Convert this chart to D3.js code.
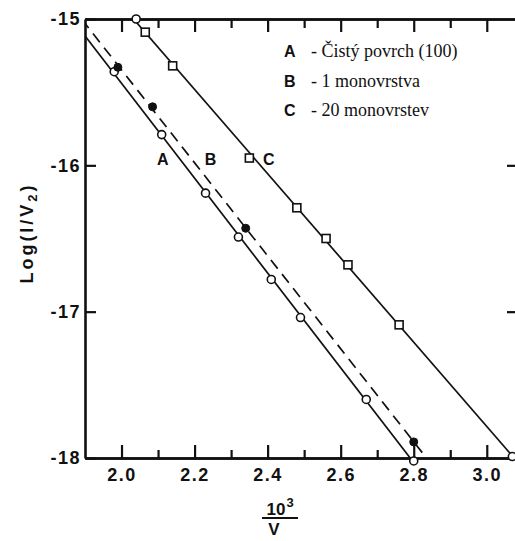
<!DOCTYPE html>
<html>
<head>
<meta charset="utf-8">
<script src="https://cdn.jsdelivr.net/npm/d3@7"></script>
<style>
  body { margin: 0; background: #fff; }
  svg { display: block; }
</style>
</head>
<body>
<div id="chart"></div>
<script>
// values
const seriesAx = [1.98, 2.11, 2.23, 2.32, 2.41, 2.49, 2.67, 2.80];
const seriesAy = [-15.36, -15.79, -16.19, -16.49, -16.78, -17.04, -17.60, -18.02];

const seriesBx = [1.99, 2.085, 2.34, 2.80];
const seriesBy = [-15.33, -15.60, -16.43, -17.89];

const seriesCx = [2.04, 2.065, 2.14, 2.35, 2.48, 2.56, 2.62, 2.76, 3.07];
const seriesCy = [-15.00, -15.09, -15.32, -15.95, -16.29, -16.50, -16.68, -17.09, -17.99];
const seriesCmark = ['circle', 'square', 'square', 'square', 'square', 'square', 'square', 'square', 'circle'];

const xTicks = [2.0, 2.2, 2.4, 2.6, 2.8, 3.0];
const xMinorTicks = [2.1, 2.3, 2.5, 2.7, 2.9];
const yTicks = [-15, -16, -17, -18];
const yRightTicks = [-16, -17];

const legendKeys = ['A', 'B', 'C'];
const legendLabels = ['- Čistý povrch (100)', '- 1 monovrstva', '- 20 monovrstev'];
// where the letters sit next to the lines
const letterX = [2.113, 2.244, 2.403];
const letterY = [-15.96, -15.96, -15.96];

const W = 515, H = 541;
const svg = d3.select('#chart').append('svg').attr('width', W).attr('height', H);

const x = d3.scaleLinear().domain([1.9, 3.08]).range([85, 516]);
const y = d3.scaleLinear().domain([-18, -15]).range([458, 19]);

const sans = '"Liberation Sans", Arial, sans-serif';
const serif = '"Liberation Serif", "Times New Roman", serif';
const ink = '#111';

// clip for the fitted lines
svg.append('clipPath').attr('id', 'plot')
    .append('rect')
    .attr('x', x(1.9)).attr('y', y(-15))
    .attr('width', x(3.08) - x(1.9)).attr('height', y(-18) - y(-15));

function fit(xs, ys) {
    const mx = d3.mean(xs), my = d3.mean(ys);
    let num = 0, den = 0;
    xs.forEach((v, i) => { num += (v - mx) * (ys[i] - my); den += (v - mx) * (v - mx); });
    const k = num / den;
    return v => my + k * (v - mx);
}

const line = d3.line().x(d => x(d[0])).y(d => y(d[1]));

function drawFit(xs, ys, dash) {
    const f = fit(xs, ys);
    const dom = [1.8, 3.2];
    svg.append('path')
        .attr('clip-path', 'url(#plot)')
        .attr('fill', 'none')
        .attr('stroke', ink)
        .attr('stroke-width', 1.7)
        .attr('stroke-dasharray', dash)
        .attr('d', line(dom.map(v => [v, f(v)])));
}

drawFit(seriesAx, seriesAy, null);
drawFit(seriesBx, seriesBy, '11,7');
drawFit(seriesCx, seriesCy, null);

// axes, ticks point inward
function styleAxis(g) {
    g.select('.domain').attr('stroke', ink).attr('stroke-width', 2.6);
    g.selectAll('.tick line').attr('stroke', ink).attr('stroke-width', 2.2);
    g.selectAll('.tick text')
        .attr('fill', ink)
        .style('font-family', sans)
        .style('font-weight', 'bold')
        .style('font-size', '18px')
        .style('letter-spacing', '1.5px');
}

svg.append('g').attr('transform', `translate(0,${y(-18)})`)
    .call(d3.axisBottom(x).tickValues(xMinorTicks).tickSize(-8).tickSizeOuter(0).tickFormat(''))
    .call(styleAxis);
svg.append('g').attr('transform', `translate(0,${y(-18)})`)
    .call(d3.axisBottom(x).tickValues(xTicks).tickSize(-13).tickSizeOuter(0).tickPadding(10).tickFormat(d3.format('.1f')))
    .call(styleAxis);

svg.append('g').attr('transform', `translate(0,${y(-15)})`)
    .call(d3.axisTop(x).tickValues(xMinorTicks).tickSize(-9).tickSizeOuter(0).tickFormat(''))
    .call(styleAxis);
svg.append('g').attr('transform', `translate(0,${y(-15)})`)
    .call(d3.axisTop(x).tickValues(xTicks).tickSize(-13).tickSizeOuter(0).tickFormat(''))
    .call(styleAxis);

svg.append('g').attr('transform', `translate(${x(1.9)},0)`)
    .call(d3.axisLeft(y).tickValues(yTicks).tickSize(-11).tickSizeOuter(0).tickPadding(4).tickFormat(d => String(d)))
    .call(styleAxis);
svg.append('g').attr('transform', `translate(${x(3.08)},0)`)
    .call(d3.axisRight(y).tickValues(yRightTicks).tickSize(-9).tickSizeOuter(0).tickFormat(''))
    .call(styleAxis);

// markers
const r = 4;
svg.selectAll('circle.a')
    .data(seriesAx.map((v, i) => [v, seriesAy[i]]))
    .enter().append('circle')
    .attr('class', 'a')
    .attr('cx', d => x(d[0])).attr('cy', d => y(d[1])).attr('r', r)
    .attr('fill', '#fff').attr('stroke', ink).attr('stroke-width', 1.6);

svg.selectAll('circle.b')
    .data(seriesBx.map((v, i) => [v, seriesBy[i]]))
    .enter().append('circle')
    .attr('class', 'b')
    .attr('cx', d => x(d[0])).attr('cy', d => y(d[1])).attr('r', r)
    .attr('fill', ink).attr('stroke', ink).attr('stroke-width', 1);

const cPts = seriesCx.map((v, i) => ({ x: v, y: seriesCy[i], m: seriesCmark[i] }));
svg.selectAll('rect.c')
    .data(cPts.filter(d => d.m === 'square'))
    .enter().append('rect')
    .attr('class', 'c')
    .attr('x', d => x(d.x) - r).attr('y', d => y(d.y) - r)
    .attr('width', 2 * r).attr('height', 2 * r)
    .attr('fill', '#fff').attr('stroke', ink).attr('stroke-width', 1.6);
svg.selectAll('circle.c')
    .data(cPts.filter(d => d.m === 'circle'))
    .enter().append('circle')
    .attr('class', 'c')
    .attr('cx', d => x(d.x)).attr('cy', d => y(d.y)).attr('r', r)
    .attr('fill', '#fff').attr('stroke', ink).attr('stroke-width', 1.6);

// line letters
svg.selectAll('text.letter')
    .data(legendKeys)
    .enter().append('text')
    .attr('class', 'letter')
    .attr('x', (d, i) => x(letterX[i])).attr('y', (d, i) => y(letterY[i]))
    .attr('text-anchor', 'middle')
    .attr('dy', '0.35em')
    .attr('fill', ink)
    .style('font-family', sans).style('font-weight', 'bold').style('font-size', '16px')
    .text(d => d);

// legend
const legend = svg.append('g').attr('transform', 'translate(284,57)');
legendKeys.forEach((k, i) => {
    legend.append('text')
        .attr('x', 0).attr('y', i * 29.5)
        .attr('fill', ink)
        .style('font-family', sans).style('font-weight', 'bold').style('font-size', '16px')
        .text(k);
    legend.append('text')
        .attr('x', 27).attr('y', i * 29.5)
        .attr('fill', ink)
        .style('font-family', serif).style('font-size', '18px')
        .text(legendLabels[i]);
});

// y axis title
const yt = svg.append('text')
    .attr('transform', 'translate(33,233) rotate(-90)')
    .attr('text-anchor', 'middle')
    .attr('fill', ink)
    .style('font-family', sans).style('font-weight', 'bold').style('font-size', '18px')
    .style('letter-spacing', '3px');
yt.append('tspan').text('Log(I/V');
yt.append('tspan').attr('dy', 4).style('font-size', '13px').text('2');
yt.append('tspan').attr('dy', -4).text(')');

// x axis title: 10^3 / V
const xt = svg.append('g').attr('transform', 'translate(279,0)')
    .attr('fill', ink)
    .style('font-family', sans).style('font-weight', 'bold');
xt.append('text').attr('x', -3).attr('y', 515).attr('text-anchor', 'middle')
    .style('font-size', '17px').text('10');
xt.append('text').attr('x', 11).attr('y', 507).attr('text-anchor', 'middle')
    .style('font-size', '13px').text('3');
xt.append('line').attr('x1', -17).attr('x2', 19).attr('y1', 518).attr('y2', 518)
    .attr('stroke', ink).attr('stroke-width', 1.8);
xt.append('text').attr('x', -5).attr('y', 535).attr('text-anchor', 'middle')
    .style('font-size', '17px').text('V');
</script>
</body>
</html>
